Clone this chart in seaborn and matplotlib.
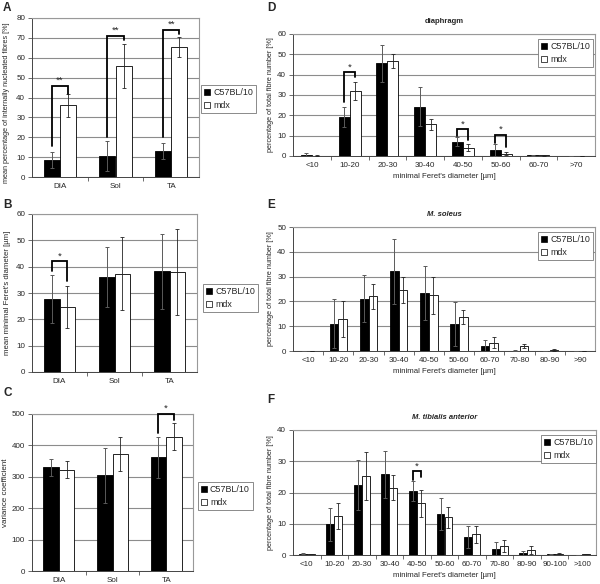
import numpy as np
import pandas as pd
import matplotlib
matplotlib.use('Agg')
import matplotlib.pyplot as plt
import seaborn as sns
from matplotlib.patches import Patch

sns.set_style('white')
plt.rcParams['font.family'] = ['Liberation Sans', 'DejaVu Sans']

strains = ['C57BL/10', 'mdx']

# A - internally nucleated fibres
muscles = ['DIA', 'Sol', 'TA']
a_c57 = [8.5, 10.5, 13.0]
a_c57_err = [4.0, 7.5, 4.0]
a_mdx = [36.0, 56.0, 65.5]
a_mdx_err = [6.0, 11.0, 5.0]
a_sig = [(0, 15.5, 46, 42, '**'), (1, 20, 71, 69, '**'), (2, 20, 74, 72, '**')]

# B - mean minimal Feret's diameter
b_c57 = [27.8, 36.0, 38.2]
b_c57_err = [9.2, 11.5, 14.1]
b_mdx = [24.7, 37.4, 38.0]
b_mdx_err = [8.1, 13.9, 16.2]
b_sig = [(0, 38.5, 42, 34.7, '*')]

# C - variance coefficient
c_c57 = [330, 305, 362]
c_c57_err = [27, 88, 65]
c_mdx = [323, 372, 427]
c_mdx_err = [27, 55, 43]
c_sig = [(2, 441, 500, 482, '*')]

# D - diaphragm
d_cats = ['<10', '10-20', '20-30', '30-40', '40-50', '50-60', '60-70', '>70']
d_c57 = [0.5, 19.0, 45.5, 24.3, 7.1, 3.0, 0.4, 0.1]
d_c57_err = [1.0, 4.9, 9.2, 9.5, 2.3, 3.1, 0.2, 0.0]
d_mdx = [0.2, 32.0, 46.8, 15.5, 4.1, 1.2, 0.3, 0.1]
d_mdx_err = [0.2, 4.3, 3.3, 2.7, 1.6, 0.6, 0.2, 0.0]
d_sig = [(1, 26.4, 41.3, 39, '*'), (4, 9.6, 13.2, 7.7, '*'), (5, 6.4, 10.5, 4.4, '*')]

# E - M. soleus
e_cats = ['<10', '10-20', '20-30', '30-40', '40-50', '50-60', '60-70', '70-80', '80-90', '>90']
e_c57 = [0.0, 11.0, 21.1, 32.1, 23.4, 11.0, 2.0, 0.2, 0.1, 0.2]
e_c57_err = [0.0, 9.8, 9.4, 13.2, 11.0, 8.8, 2.3, 0.2, 0.1, 0.0]
e_mdx = [0.0, 12.8, 22.0, 24.7, 22.4, 13.6, 3.4, 1.9, 0.5, 0.0]
e_mdx_err = [0.0, 7.3, 5.1, 5.3, 7.4, 2.8, 2.1, 0.8, 0.4, 0.0]

# F - M. tibialis anterior
f_cats = ['<10', '10-20', '20-30', '30-40', '40-50', '50-60', '60-70', '70-80', '80-90', '90-100', '>100']
f_c57 = [0.4, 9.9, 22.4, 25.9, 20.5, 13.2, 5.9, 1.8, 0.5, 0.2, 0.0]
f_c57_err = [0.1, 5.3, 8.0, 7.5, 3.3, 5.1, 3.5, 2.5, 0.9, 0.1, 0.0]
f_mdx = [0.3, 12.4, 25.4, 21.6, 16.5, 12.1, 6.6, 2.9, 1.5, 0.4, 0.2]
f_mdx_err = [0.1, 4.1, 7.7, 4.0, 4.2, 3.4, 2.6, 1.8, 1.3, 0.2, 0.0]
f_sig = [(4, 24.0, 26.9, 24.9, '*')]

W, H = 600, 584
fig = plt.figure(figsize=(W / 100, H / 100), dpi=100)


def px_axes(l, t, r, b):
    return fig.add_axes([l / W, 1 - b / H, (r - l) / W, (b - t) / H])


FS = 5.8
LFS = 5.2


def panel(ax, cats, c57, c57_err, mdx, mdx_err, ymax, ystep, sig, legpos, legloc):
    n = len(cats)
    df = pd.DataFrame({'cat': cats + cats, 'val': c57 + mdx,
                       'strain': [strains[0]] * n + [strains[1]] * n})
    sns.barplot(data=df, x='cat', y='val', hue='strain', palette=['black', 'white'],
                edgecolor='black', linewidth=0.6, width=0.58, errorbar=None,
                legend=False, ax=ax, zorder=3)
    xs0 = [p.get_x() + p.get_width() / 2 for p in ax.containers[0]]
    xs1 = [p.get_x() + p.get_width() / 2 for p in ax.containers[1]]
    ax.errorbar(xs0, c57, yerr=c57_err, fmt='none', ecolor='#5a5a5a', elinewidth=0.7,
                capsize=1.6, capthick=0.7, zorder=4)
    ax.errorbar(xs1, mdx, yerr=mdx_err, fmt='none', ecolor='#222222', elinewidth=0.6,
                capsize=1.6, capthick=0.6, zorder=4)
    for i, ly, ty, ry, txt in sig:
        ax.plot([xs0[i], xs0[i], xs1[i], xs1[i]], [ly, ty, ty, ry], color='black',
                lw=1.3, zorder=5, clip_on=False, solid_joinstyle='miter')
        ax.text((xs0[i] + xs1[i]) / 2, ty + ymax * 0.005, txt, ha='center', va='bottom',
                fontsize=FS + 1, clip_on=False)
    ax.set_xlim(-0.5, n - 0.5)
    ax.set_ylim(0, ymax)
    ax.set_yticks(np.arange(0, ymax + ystep / 2, ystep))
    ax.set_xticks(range(n))
    ax.set_xticklabels(cats)
    ax.set_xticks(np.arange(0.5, n - 0.5, 1), minor=True)
    ax.yaxis.grid(True, color='#8c8c8c', lw=0.8)
    ax.set_axisbelow(True)
    ax.tick_params(axis='x', which='major', length=0, labelsize=FS, pad=4)
    ax.tick_params(axis='x', which='minor', length=3, width=0.6, color='#555555', direction='out', bottom=True)
    ax.tick_params(axis='y', length=3, width=0.6, color='#555555', direction='out', labelsize=FS, pad=2, left=True)
    ax.set_xlabel('')
    for s in ['left', 'bottom']:
        ax.spines[s].set_color('#444444')
        ax.spines[s].set_linewidth(0.7)
    for s in ['top', 'right']:
        ax.spines[s].set_color('#999999')
        ax.spines[s].set_linewidth(0.8)
    handles = [Patch(facecolor='black', edgecolor='black', lw=0.5),
               Patch(facecolor='white', edgecolor='black', lw=0.5)]
    leg = ax.legend(handles, strains, loc=legloc, bbox_to_anchor=(legpos[0] / W, 1 - legpos[1] / H),
                    bbox_transform=fig.transFigure, fontsize=6.4, handlelength=0.7,
                    handleheight=0.7, handletextpad=0.3, borderpad=0.35, labelspacing=0.45,
                    frameon=True, fancybox=False, framealpha=1, edgecolor='#777777',
                    borderaxespad=0)
    leg.get_frame().set_linewidth(0.6)
    return ax


axA = px_axes(32, 18, 199, 177)
panel(axA, muscles, a_c57, a_c57_err, a_mdx, a_mdx_err, 80, 10, a_sig, (201, 85), 'upper left')
axA.set_ylabel('mean percentage of internally nucleated fibres [%]', fontsize=LFS)
axA.yaxis.set_label_coords(-0.13, 0.47)

axB = px_axes(32, 214, 197, 372)
panel(axB, muscles, b_c57, b_c57_err, b_mdx, b_mdx_err, 60, 10, b_sig, (203, 284), 'upper left')
axB.set_ylabel("mean minimal Feret's diameter [\u00b5m]", fontsize=LFS + 0.4)
axB.yaxis.set_label_coords(-0.13, 0.5)

axC = px_axes(32, 414, 193, 571)
panel(axC, muscles, c_c57, c_c57_err, c_mdx, c_mdx_err, 500, 100, c_sig, (198, 482), 'upper left')
axC.set_ylabel('variance coefficient', fontsize=LFS + 0.6)
axC.yaxis.set_label_coords(-0.14, 0.5)

ylab = 'percentage of total fibre number [%]'
xlab = "minimal Feret's diameter [\u00b5m]"

axD = px_axes(293, 34, 595, 156)
panel(axD, d_cats, d_c57, d_c57_err, d_mdx, d_mdx_err, 60, 10, d_sig, (593, 39), 'upper right')
axD.set_title('diaphragm', fontsize=FS - 0.3, fontweight='bold', pad=8)

axE = px_axes(293, 227, 595, 351)
panel(axE, e_cats, e_c57, e_c57_err, e_mdx, e_mdx_err, 50, 10, [], (593, 232), 'upper right')
axE.set_title('M. soleus', fontsize=FS - 0.3, fontweight='bold', style='italic', pad=8)

axF = px_axes(293, 430, 596, 555)
panel(axF, f_cats, f_c57, f_c57_err, f_mdx, f_mdx_err, 40, 10, f_sig, (596, 435), 'upper right')
axF.set_title('M. tibialis anterior', fontsize=FS - 0.3, fontweight='bold', style='italic', pad=8)

for ax in (axD, axE, axF):
    ax.set_ylabel(ylab, fontsize=LFS)
    ax.yaxis.set_label_coords(-0.063, 0.5)
    ax.set_xlabel(xlab, fontsize=FS - 0.2, labelpad=3)

for lab, x, y in [('A', 3, 8), ('B', 3, 205), ('C', 3, 393),
                  ('D', 267, 8), ('E', 267, 205), ('F', 267, 400)]:
    fig.text(x / W, 1 - y / H, lab, fontsize=8.5, fontweight='bold', va='center', ha='left')

fig.savefig('out.png', dpi=100)
